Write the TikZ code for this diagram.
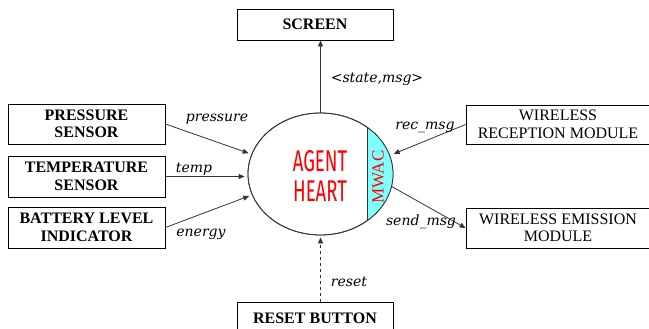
\documentclass[tikz,border=0pt]{standalone}
\usepackage{fontspec}
\setmainfont{Liberation Serif}
\newfontfamily\labelfont{DejaVu Serif}
\newfontfamily\heartfont{Fira Sans}
\usetikzlibrary{shapes.geometric,arrows.meta}
\definecolor{linegray}{HTML}{333333}
\definecolor{mwaccyan}{HTML}{80FFFF}
\tikzset{
  unitbox/.style={draw=black, line width=0.9pt, rectangle, inner sep=0pt, align=center,
    font=\fontsize{16}{17.5}\selectfont\bfseries},
  plainbox/.style={unitbox, font=\fontsize{16}{17.5}\selectfont},
  flow/.style={draw=linegray, line width=0.8pt, -{Triangle[length=6pt,width=5pt]}},
  msg/.style={font=\fontsize{14}{16}\selectfont\labelfont\itshape, inner sep=0pt},
}
\begin{document}
\begin{tikzpicture}[x=1pt,y=-1pt]
\useasboundingbox (0,0) rectangle (649,329);

% central agent
\node[ellipse, draw=linegray, line width=0.8pt, minimum width=145pt, minimum height=122pt, inner sep=0pt] (heart) at (320.5,174) {};
\begin{scope}
  \clip (320.5,174) ellipse [x radius=72.5, y radius=61];
  \fill[mwaccyan] (367.7,100) rectangle (400,250);
  \draw[linegray, line width=0.8pt] (367.7,100) -- (367.7,250);
\end{scope}
\draw[linegray, line width=0.8pt] (320.5,174) ellipse [x radius=72.5, y radius=61];
\node[red, font=\fontsize{30}{33}\selectfont\heartfont, xscale=0.62, align=center, inner sep=0pt] (heartlbl) at (320,176) {AGENT\\[-3pt]HEART};
\node[red, rotate=90, font=\fontsize{17}{19}\selectfont, inner sep=0pt] (mwac) at (378,177) {MWAC};

% peripheral units
\node[unitbox, minimum width=156pt, minimum height=31pt] (screen) at (315,24.5) {SCREEN};
\node[unitbox, minimum width=157pt, minimum height=40pt] (press) at (86.5,124) {PRESSURE\\SENSOR};
\node[unitbox, minimum width=157pt, minimum height=41pt] (temp) at (86.5,176.5) {TEMPERATURE\\SENSOR};
\node[unitbox, minimum width=157pt, minimum height=41pt] (batt) at (86.5,227.5) {BATTERY LEVEL\\INDICATOR};
\node[plainbox, minimum width=184pt, minimum height=39pt] (recv) at (558,124.5) {WIRELESS\\RECEPTION MODULE};
\node[plainbox, minimum width=184pt, minimum height=40pt] (emit) at (558,228) {WIRELESS EMISSION\\MODULE};
\node[unitbox, minimum width=156pt, minimum height=32pt] (reset) at (315,318) {RESET BUTTON};

% connectors
\draw[flow] (heart.north) -- (heart.north |- screen.south);
\draw[flow, shorten >=3pt] (press.east) -- (heart.164);
\draw[flow, shorten >=3pt] (temp.east) -- (temp.east -| heart.west);
\draw[flow, shorten >=3pt] (batt.east) -- (heart.197);
\draw[flow, shorten >=4pt] (recv.west) -- (heart.15);
\draw[flow] (heart.-10) -- (emit.west);
\draw[flow, dashed, shorten >=2pt] (heart.south |- reset.north) -- (heart.south);

% message labels
\node[msg] (lstate) at (377,79) {<state,msg>};
\node[msg] (lpress) at (217,119) {pressure};
\node[msg] (ltemp) at (194,169) {temp};
\node[msg] (lenergy) at (201,234) {energy};
\node[msg] (lrec) at (425,127) {rec\_msg};
\node[msg] (lsend) at (421,222) {send\_msg};
\node[msg] (lreset) at (349,282) {reset};
\end{tikzpicture}
\end{document}
